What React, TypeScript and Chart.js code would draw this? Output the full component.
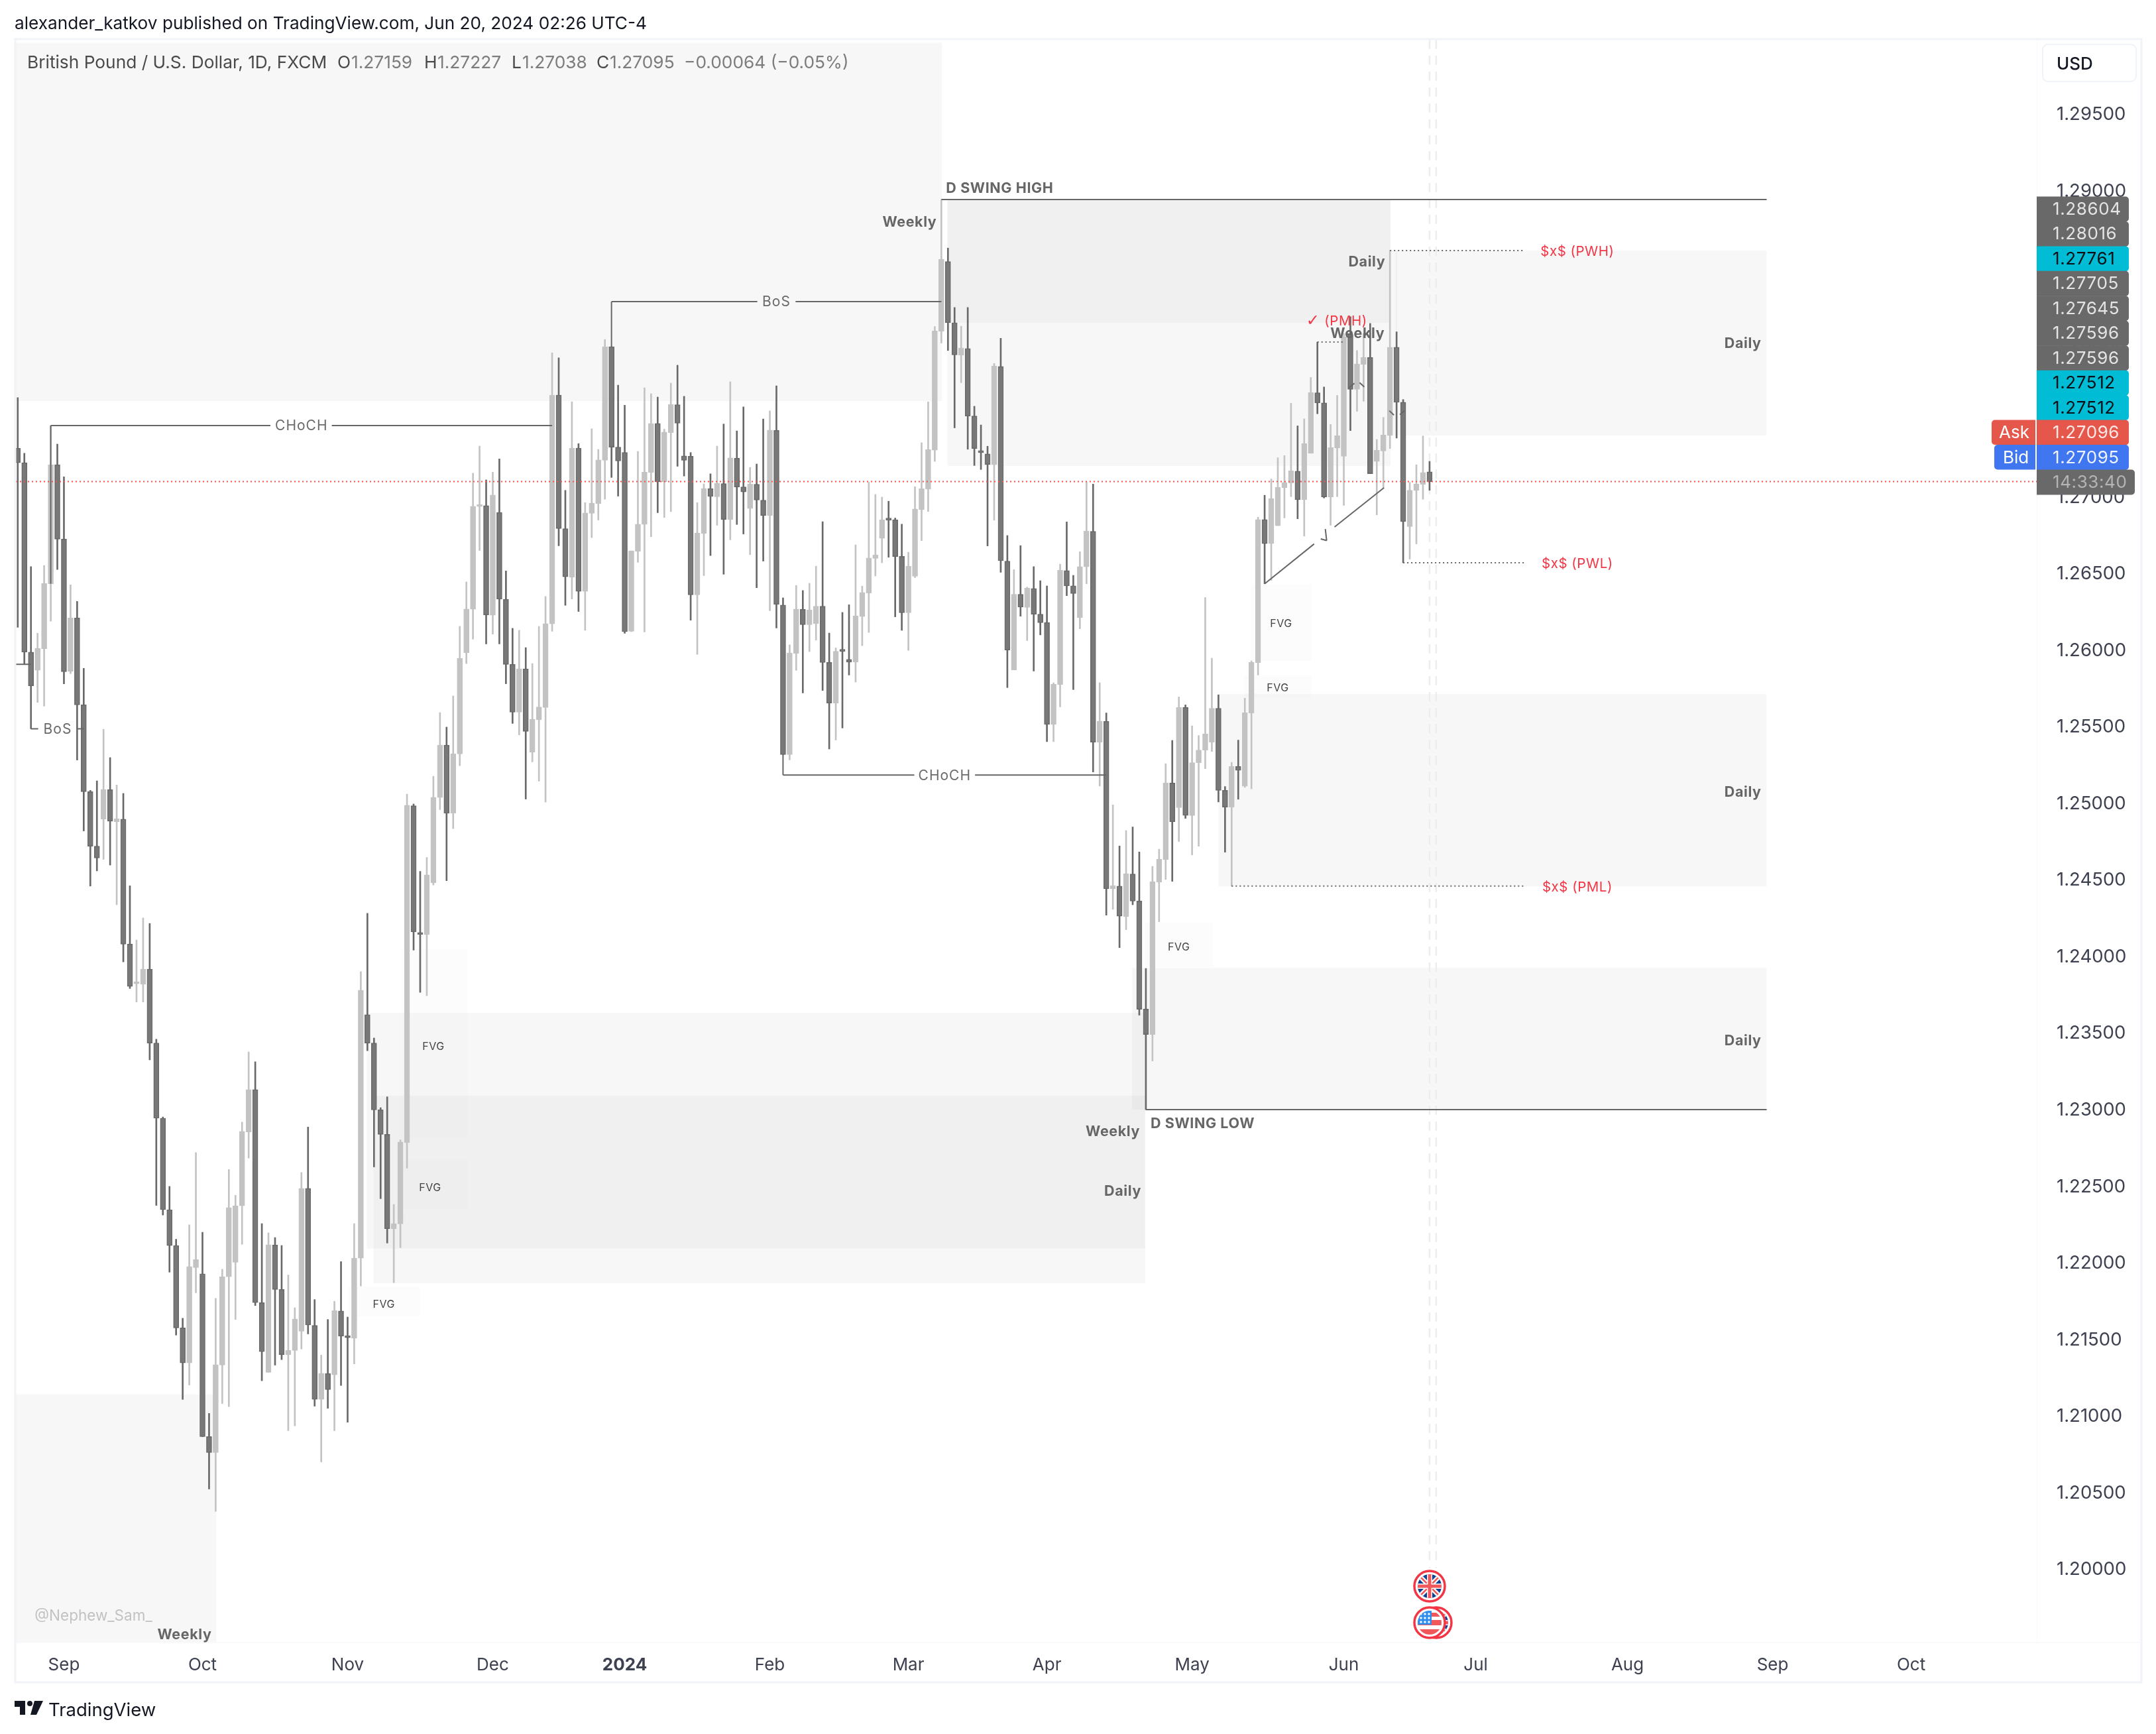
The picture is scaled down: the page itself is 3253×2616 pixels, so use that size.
import { useEffect, useRef } from "react";
import { Chart, registerables } from "chart.js";

Chart.register(...registerables);

const opens = [
  1.27313,1.27218,1.25982,1.25863,1.26004,1.26428,1.27205,1.26719,1.25856,1.26205,
  1.25637,1.25070,1.24714,1.24891,1.25083,1.24873,1.24891,1.24075,1.23816,1.23813,
  1.23912,1.23429,1.22938,1.22341,1.22107,1.21569,1.21340,1.21963,1.21922,1.20859,
  1.20755,1.21326,1.21903,1.21997,1.22366,1.22849,1.23125,1.21734,1.21279,1.22110,
  1.21820,1.21395,1.21422,1.21547,1.22480,1.21585,1.21102,1.21271,1.21262,1.21679,
  1.21516,1.21502,1.22024,1.23614,1.23429,1.22993,1.22833,1.22217,1.22248,1.22780,
  1.24979,1.24149,1.24136,1.24475,1.25032,1.25375,1.24929,1.25317,1.25978,1.26261,
  1.26932,1.26938,1.26223,1.26894,1.26327,1.25901,1.25589,1.25872,1.25329,1.25541,
  1.25620,1.26166,1.27660,1.26788,1.26470,1.27314,1.26378,1.26888,1.26952,1.27234,
  1.27976,1.27320,1.27285,1.26117,1.26640,1.26815,1.27155,1.27475,1.27093,1.27415,
  1.27597,1.27263,1.27261,1.26356,1.26757,1.27049,1.26996,1.27082,1.26848,1.27248,
  1.27060,1.26919,1.27078,1.26974,1.26874,1.27429,1.26289,1.25313,1.25974,1.26261,
  1.26161,1.26168,1.26281,1.25914,1.25649,1.25991,1.25934,1.25916,1.26214,1.26367,
  1.26594,1.26724,1.26848,1.26846,1.26607,1.26239,1.26477,1.26912,1.27046,1.27300,
  1.28077,1.28532,1.28132,1.27920,1.27964,1.27523,1.27289,1.27276,1.27207,1.27847,
  1.26576,1.25865,1.26359,1.26273,1.26397,1.26229,1.26174,1.25509,1.25770,1.26514,
  1.26414,1.26207,1.26538,1.26770,1.25394,1.25529,1.24436,1.24454,1.24255,1.24533,
  1.24356,1.23651,1.23485,1.24479,1.24626,1.25127,1.24966,1.25620,1.24914,1.25260,
  1.25342,1.25394,1.25615,1.25079,1.24969,1.25235,1.25106,1.25583,1.25913,1.26847,
  1.26690,1.26807,1.27055,1.27086,1.27163,1.26977,1.27280,1.27675,1.27609,1.26995,
  1.27315,1.27260,1.28055,1.27697,1.27861,1.27905,1.27227,1.27295,1.27397,1.27973,
  1.27613,1.26801,1.27037,1.27077,1.27159,
];

const highs = [
  1.27644,1.27280,1.26540,1.26105,1.26547,1.27461,1.27340,1.27126,1.26421,1.26313,
  1.25876,1.25079,1.25141,1.25478,1.25293,1.25114,1.25059,1.24456,1.24102,1.24246,
  1.24210,1.23454,1.22946,1.22493,1.22148,1.21632,1.22242,1.22714,1.22193,1.21011,
  1.21762,1.21952,1.22604,1.22435,1.22913,1.23371,1.23307,1.22250,1.22190,1.22159,
  1.22107,1.21914,1.21701,1.22584,1.22880,1.21754,1.21392,1.21624,1.21743,1.22002,
  1.21640,1.22250,1.23895,1.24276,1.23462,1.23007,1.23078,1.22375,1.22797,1.25054,
  1.24990,1.24550,1.24641,1.25171,1.25587,1.25492,1.25695,1.26150,1.26440,1.27150,
  1.27327,1.27106,1.27157,1.27243,1.26512,1.26137,1.26124,1.26011,1.25907,1.26150,
  1.26345,1.27936,1.27903,1.27038,1.27616,1.27343,1.26958,1.27440,1.27305,1.28023,
  1.27976,1.27725,1.27594,1.26643,1.27292,1.27707,1.27669,1.27647,1.27437,1.27738,
  1.27855,1.27652,1.27285,1.26958,1.27080,1.27146,1.27327,1.27471,1.27747,1.27426,
  1.27583,1.27188,1.27210,1.27504,1.27557,1.27720,1.26336,1.26029,1.26417,1.26384,
  1.26431,1.26543,1.26833,1.26106,1.26009,1.26241,1.26291,1.26682,1.26413,1.27091,
  1.27011,1.26994,1.26967,1.26857,1.26817,1.26634,1.27062,1.27349,1.27616,1.28108,
  1.28937,1.28620,1.28232,1.28110,1.28232,1.27587,1.27465,1.27326,1.27867,1.28031,
  1.26743,1.26520,1.26677,1.26406,1.26540,1.26448,1.26414,1.25781,1.26556,1.26832,
  1.26483,1.26637,1.27092,1.27079,1.25782,1.25584,1.24984,1.24716,1.24817,1.24840,
  1.24677,1.23916,1.24582,1.24695,1.25253,1.25405,1.25689,1.25637,1.25500,1.25437,
  1.26339,1.25942,1.25703,1.25104,1.25262,1.25407,1.25681,1.25924,1.26863,1.27006,
  1.27112,1.27251,1.27265,1.27607,1.27459,1.27505,1.27775,1.28006,1.27713,1.27468,
  1.27658,1.28062,1.28172,1.27951,1.28062,1.28128,1.27370,1.27514,1.28604,1.28073,
  1.27631,1.27090,1.27205,1.27393,1.27227,
];

const lows = [
  1.26143,1.25902,1.25481,1.25653,1.25629,1.26183,1.26521,1.25774,1.25841,1.25277,
  1.24814,1.24454,1.24553,1.24628,1.24591,1.24332,1.23959,1.23785,1.23697,1.23697,
  1.23319,1.22369,1.22306,1.21933,1.21522,1.21102,1.21196,1.21798,1.20859,1.20517,
  1.20371,1.21075,1.21055,1.21624,1.22115,1.22678,1.21715,1.21224,1.21279,1.21326,
  1.21362,1.20898,1.20929,1.21431,1.21530,1.21058,1.20694,1.21044,1.20898,1.21193,
  1.20953,1.21334,1.21842,1.23379,1.22620,1.22413,1.22123,1.21864,1.22093,1.22612,
  1.24036,1.23760,1.23738,1.24461,1.24953,1.24489,1.24829,1.25240,1.25907,1.26066,
  1.26645,1.26035,1.26099,1.26035,1.25775,1.25516,1.25441,1.25022,1.25265,1.25139,
  1.25002,1.26117,1.26676,1.26287,1.26329,1.26247,1.26124,1.26729,1.26844,1.26980,
  1.27122,1.27000,1.26104,1.26115,1.26568,1.26113,1.26735,1.26892,1.26861,1.26899,
  1.27195,1.27131,1.26190,1.25967,1.26481,1.26612,1.26810,1.26490,1.26715,1.26815,
  1.26753,1.26618,1.26402,1.26576,1.26252,1.26139,1.25313,1.25278,1.25863,1.25715,
  1.25985,1.26060,1.25731,1.25349,1.25408,1.25486,1.25832,1.25786,1.26024,1.26110,
  1.26479,1.26565,1.26601,1.26212,1.26124,1.25993,1.26468,1.26709,1.26900,1.27227,
  1.28000,1.27951,1.27446,1.27741,1.27306,1.27200,1.27174,1.26675,1.26843,1.26503,
  1.25750,1.25865,1.26216,1.26057,1.25858,1.26094,1.25397,1.25397,1.25624,1.26350,
  1.25737,1.26134,1.26428,1.25199,1.25107,1.24264,1.24302,1.24052,1.24169,1.24332,
  1.23611,1.22994,1.23312,1.24221,1.24497,1.24485,1.24745,1.24896,1.24657,1.24714,
  1.25220,1.25333,1.25003,1.24675,1.24454,1.25021,1.25098,1.25089,1.25832,1.26428,
  1.26450,1.26807,1.26858,1.26997,1.26852,1.26739,1.27280,1.27538,1.26988,1.26810,
  1.26997,1.26940,1.27428,1.27554,1.27620,1.27147,1.26878,1.27057,1.27311,1.27379,
  1.26565,1.26589,1.26688,1.26980,1.27038,
];

const closes = [
  1.27218,1.25982,1.25761,1.26006,1.26430,1.27205,1.26719,1.25854,1.26205,1.25637,
  1.25070,1.24714,1.24637,1.25085,1.24878,1.24893,1.24075,1.23799,1.23820,1.23912,
  1.23429,1.22938,1.22341,1.22107,1.21569,1.21340,1.21969,1.22016,1.20859,1.20755,
  1.21329,1.21903,1.22355,1.22366,1.22852,1.23125,1.21734,1.21414,1.22112,1.21820,
  1.21395,1.21422,1.21627,1.22480,1.21588,1.21102,1.21273,1.21166,1.21682,1.21516,
  1.21505,1.22024,1.23774,1.23429,1.22993,1.22833,1.22217,1.22250,1.22783,1.24982,
  1.24155,1.24138,1.24527,1.25034,1.25375,1.24929,1.25317,1.25942,1.26263,1.26934,
  1.26938,1.26225,1.27007,1.26327,1.25901,1.25589,1.25872,1.25464,1.25543,1.25623,
  1.26168,1.27660,1.26788,1.26473,1.27314,1.26378,1.26890,1.26954,1.27237,1.27976,
  1.27320,1.27230,1.26115,1.26643,1.26817,1.27157,1.27475,1.27093,1.27418,1.27599,
  1.27477,1.27234,1.26356,1.26760,1.27049,1.26998,1.27084,1.26848,1.27250,1.27060,
  1.27027,1.27080,1.26974,1.26874,1.27431,1.26294,1.25313,1.25976,1.26263,1.26161,
  1.26258,1.26281,1.25914,1.25649,1.25987,1.25987,1.25916,1.26219,1.26371,1.26596,
  1.26616,1.26846,1.26844,1.26605,1.26239,1.26543,1.26916,1.27049,1.27304,1.28079,
  1.28547,1.28132,1.27922,1.27967,1.27523,1.27311,1.27284,1.27207,1.27850,1.26578,
  1.25995,1.26359,1.26275,1.26399,1.26229,1.26174,1.25509,1.25772,1.26516,1.26414,
  1.26364,1.26540,1.26772,1.25394,1.25531,1.24436,1.24456,1.24257,1.24535,1.24356,
  1.23649,1.23485,1.24483,1.24630,1.25127,1.24874,1.25620,1.24915,1.25260,1.25342,
  1.25448,1.25615,1.25079,1.24969,1.25235,1.25210,1.25586,1.25915,1.26847,1.26690,
  1.26984,1.27057,1.27088,1.27165,1.26977,1.27344,1.27677,1.27609,1.26995,1.27317,
  1.27395,1.28040,1.27697,1.27863,1.27907,1.27147,1.27300,1.27399,1.27973,1.27613,
  1.26834,1.27039,1.27079,1.27154,1.27095,
];

// month labels sit on these bar numbers, the axis runs on past the last candle
const timeTickBars = [7, 28, 50, 72, 92, 114, 135, 156, 178, 201, 221, 244, 266, 287];
const timeTickLabels = ["Sep", "Oct", "Nov", "Dec", "2024", "Feb", "Mar", "Apr", "May", "Jun", "Jul", "Aug", "Sep", "Oct"];

const lastPrice = 1.27095;
const swingHigh = 1.28937;
const swingLow = 1.22994;
const pwh = 1.28604;
const pwl = 1.26565;
const pml = 1.24454;
const pmh = 1.28006;

// [from bar, to bar, top price, bottom price, shade]
const zones = [
  [-0.28, 140.1, 1.29961, 1.27621, "rgba(0,0,0,0.031)"],
  [140.9, 208.1, 1.28937, 1.27197, "rgba(0,0,0,0.031)"],
  [140.9, 208.1, 1.28937, 1.28131, "rgba(0,0,0,0.031)"],
  [208.1, 265.1, 1.28603, 1.27396, "rgba(0,0,0,0.031)"],
  [182.0, 265.1, 1.25708, 1.24451, "rgba(0,0,0,0.031)"],
  [168.9, 265.1, 1.2392, 1.22994, "rgba(0,0,0,0.031)"],
  [52.9, 170.9, 1.23626, 1.22087, "rgba(0,0,0,0.031)"],
  [53.9, 170.9, 1.23085, 1.2186, "rgba(0,0,0,0.031)"],
  [-0.28, 30.1, 1.21135, 1.19519, "rgba(0,0,0,0.031)"],
  [58, 68.2, 1.24042, 1.22808, "rgba(0,0,0,0.012)"],
  [58, 68.2, 1.22665, 1.22341, "rgba(0,0,0,0.012)"],
  [50, 61, 1.21839, 1.21644, "rgba(0,0,0,0.012)"],
  [186.9, 196.1, 1.26426, 1.25924, "rgba(0,0,0,0.012)"],
  [185.9, 196.1, 1.25829, 1.25682, "rgba(0,0,0,0.012)"],
  [170.9, 181.2, 1.24215, 1.23925, "rgba(0,0,0,0.012)"],
] as const;

// [x1, price1, x2, price2]
const solidLines = [
  [5, 1.26428, 5, 1.27461],
  [5, 1.27461, 38.3, 1.27461],
  [47.6, 1.27461, 81, 1.27461],
  [-0.28, 1.25902, 2, 1.25902],
  [2, 1.25481, 3.1, 1.25481],
  [9, 1.25481, 10, 1.25481],
  [90, 1.27976, 90, 1.2827],
  [90, 1.2827, 112.1, 1.2827],
  [117.9, 1.2827, 140, 1.2827],
  [140, swingHigh, 265.1, swingHigh],
  [171, swingLow, 265.1, swingLow],
  [116, 1.25313, 116, 1.25179],
  [116, 1.25179, 135.9, 1.25179],
  [145.1, 1.25179, 165, 1.25179],
  [189, 1.26428, 196.5, 1.26688],
  [199.6, 1.26799, 207.1, 1.27055],
  [197.5, 1.26721, 198.4, 1.2671],
  [198.4, 1.2671, 198.2, 1.26785],
  [201.8, 1.27708, 202.6, 1.27737],
  [203.4, 1.27741, 204.1, 1.27713],
  [207.9, 1.27558, 208.6, 1.27529],
  [209.5, 1.27532, 210.2, 1.27558],
] as const;

const dottedLines = [
  [197, pmh, 201, pmh],
  [208, pwh, 228.3, pwh],
  [210, pwl, 228.3, pwl],
  [184, pml, 228.3, pml],
] as const;

const boldNotes = [
  ["Weekly", 139.3, 1.28794, "right"],
  ["Weekly", 207.2, 1.28071, "right"],
  ["Daily", 207.3, 1.28538, "right"],
  ["Weekly", 170.1, 1.2286, "right"],
  ["Daily", 170.3, 1.2247, "right"],
  ["Weekly", 29.4, 1.19571, "right"],
  ["Daily", 264.3, 1.28002, "right"],
  ["Daily", 264.3, 1.25076, "right"],
  ["Daily", 264.3, 1.23453, "right"],
  ["D SWING HIGH", 140.7, 1.29019, "left"],
  ["D SWING LOW", 171.7, 1.22912, "left"],
] as const;

const structureNotes = [
  ["CHoCH", 43, 1.27461],
  ["BoS", 6.05, 1.25481],
  ["BoS", 115, 1.2827],
  ["CHoCH", 140.5, 1.25179],
] as const;

const fvgNotes = [
  [63, 1.23414],
  [62.5, 1.22492],
  [55.5, 1.2173],
  [191.5, 1.26175],
  [191, 1.25755],
  [176, 1.24063],
] as const;

const redNotes = [
  ["(PMH)", 201.3, 1.28149],
  ["$x$ (PWH)", 236.4, pwh],
  ["$x$ (PWL)", 236.4, pwl],
  ["$x$ (PML)", 236.4, pml],
] as const;

const badgeLabels = ["1.28604", "1.28016", "1.27761", "1.27705", "1.27645", "1.27596", "1.27596", "1.27512", "1.27512", "1.27096", "1.27095", "14:33:40"];
const badgeColors = ["#696969", "#696969", "#00bcd4", "#696969", "#696969", "#696969", "#696969", "#00bcd4", "#00bcd4", "#e5574b", "#4076f0", "#696969"];
const badgeInk = ["#e4e4e4", "#e4e4e4", "#0b0e14", "#e4e4e4", "#e4e4e4", "#e4e4e4", "#e4e4e4", "#0b0e14", "#0b0e14", "#ffe8e6", "#eef3ff", "#b4b4b4"];

const FONT = "Inter, 'Noto Sans', sans-serif";

function put(ctx: any, text: string, x: number, y: number, font: string, color: string, align = "left", spacing = "0px") {
  ctx.font = font;
  ctx.fillStyle = color;
  ctx.textAlign = align;
  ctx.textBaseline = "middle";
  ctx.letterSpacing = spacing;
  ctx.fillText(text, x, y);
  ctx.letterSpacing = "0px";
}

function roundBox(ctx: any, x: number, y: number, w: number, h: number, r: any, fill: string) {
  ctx.beginPath();
  ctx.roundRect(x, y, w, h, r);
  ctx.fillStyle = fill;
  ctx.fill();
}

function drawUk(ctx: any, cx: number, cy: number) {
  ctx.save();
  ctx.beginPath();
  ctx.arc(cx, cy, 18, 0, Math.PI * 2);
  ctx.clip();
  ctx.fillStyle = "#0d3f96";
  ctx.fillRect(cx - 18, cy - 18, 36, 36);
  ctx.strokeStyle = "#ffffff";
  ctx.lineWidth = 7;
  ctx.beginPath();
  ctx.moveTo(cx - 18, cy - 18);
  ctx.lineTo(cx + 18, cy + 18);
  ctx.moveTo(cx + 18, cy - 18);
  ctx.lineTo(cx - 18, cy + 18);
  ctx.stroke();
  ctx.strokeStyle = "#f0585c";
  ctx.lineWidth = 2.5;
  ctx.stroke();
  ctx.fillStyle = "#ffffff";
  ctx.fillRect(cx - 4, cy - 18, 8, 36);
  ctx.fillRect(cx - 18, cy - 4, 36, 8);
  ctx.fillStyle = "#f0585c";
  ctx.fillRect(cx - 2.5, cy - 18, 5, 36);
  ctx.fillRect(cx - 18, cy - 2.5, 36, 5);
  ctx.restore();
}

function drawUs(ctx: any, cx: number, cy: number) {
  ctx.save();
  ctx.beginPath();
  ctx.arc(cx, cy, 18, 0, Math.PI * 2);
  ctx.clip();
  ctx.fillStyle = "#ffffff";
  ctx.fillRect(cx - 18, cy - 18, 36, 36);
  ctx.fillStyle = "#f0585c";
  ctx.fillRect(cx - 18, cy - 15, 36, 6);
  ctx.fillRect(cx - 18, cy - 4, 36, 8);
  ctx.fillRect(cx - 18, cy + 10, 36, 8);
  ctx.fillStyle = "#2f8ef0";
  ctx.fillRect(cx - 18, cy - 18, 21, 21);
  ctx.fillStyle = "#ffffff";
  for (let r = 0; r < 3; r++) {
    for (let c = 0; c < 3; c++) {
      ctx.beginPath();
      ctx.arc(cx - 13 + c * 6, cy - 13 + r * 6, 1.7, 0, Math.PI * 2);
      ctx.fill();
    }
  }
  ctx.restore();
}

function ring(ctx: any, cx: number, cy: number) {
  ctx.beginPath();
  ctx.arc(cx, cy, 23, 0, Math.PI * 2);
  ctx.fillStyle = "#ffffff";
  ctx.fill();
  ctx.strokeStyle = "#f23645";
  ctx.lineWidth = 3.5;
  ctx.stroke();
}

const zonesPlugin = {
  id: "zones",
  beforeDatasetsDraw(chart: any) {
    const { ctx, chartArea, scales } = chart;
    ctx.save();
    ctx.beginPath();
    ctx.rect(chartArea.left, chartArea.top, chartArea.width, chartArea.height);
    ctx.clip();
    for (const [a, b, top, bottom, shade] of zones) {
      const x1 = scales.x.getPixelForValue(a);
      const x2 = scales.x.getPixelForValue(b);
      const y1 = scales.y.getPixelForValue(top);
      const y2 = scales.y.getPixelForValue(bottom);
      ctx.fillStyle = shade;
      ctx.fillRect(x1, y1, x2 - x1, y2 - y1);
    }
    ctx.restore();
  },
};

const overlayPlugin = {
  id: "overlay",
  afterDraw(chart: any) {
    const { ctx, scales } = chart;
    const px = (v: number) => scales.x.getPixelForValue(v);
    const py = (v: number) => scales.y.getPixelForValue(v);
    ctx.save();

    // frame
    ctx.strokeStyle = "#f1f3f8";
    ctx.lineWidth = 3;
    ctx.strokeRect(23, 59, 3208, 2479);
    ctx.fillStyle = "#f8f9fb";
    ctx.fillRect(3073, 60, 1, 2417);
    ctx.fillRect(24, 2477, 3206, 2);

    for (const [text, x, price, align] of boldNotes) {
      put(ctx, text, px(x), py(price) + 2, `700 21.5px ${FONT}`, "#666666", align, "0.6px");
    }
    for (const [text, x, price] of structureNotes) {
      put(ctx, text, px(x), py(price) + 1, `400 21px ${FONT}`, "#6a6a6a", "center", "1px");
    }
    for (const [x, price] of fvgNotes) {
      put(ctx, "FVG", px(x), py(price) + 2, `400 16px ${FONT}`, "#444444", "center", "0.5px");
    }
    for (const [text, x, price] of redNotes) {
      put(ctx, text, px(x), py(price) + 2, `400 20.5px ${FONT}`, "#f23645", "center", "0.5px");
    }
    put(ctx, "✓", px(196.3), py(1.28149) + 2, "400 24px 'DejaVu Sans'", "#f23645", "center");
    put(ctx, "@Nephew_Sam_", 141, 2438, `400 22.5px ${FONT}`, "#c2c2c2", "center");

    // header
    put(ctx, "alexander_katkov published on TradingView.com, Jun 20, 2024 02:26 UTC-4", 22, 36, `400 26.2px ${FONT}`, "#131722");
    const legendFont = `400 26.3px ${FONT}`;
    put(ctx, "British Pound / U.S. Dollar, 1D, FXCM", 41, 95, legendFont, "#4a4a4a");
    put(ctx, "O", 509, 95, legendFont, "#4a4a4a");
    put(ctx, "1.27159", 530, 95, legendFont, "#7d7d7d");
    put(ctx, "H", 640, 95, legendFont, "#4a4a4a");
    put(ctx, "1.27227", 660, 95, legendFont, "#7d7d7d");
    put(ctx, "L", 772, 95, legendFont, "#4a4a4a");
    put(ctx, "1.27038", 788, 95, legendFont, "#7d7d7d");
    put(ctx, "C", 900, 95, legendFont, "#4a4a4a");
    put(ctx, "1.27095", 920, 95, legendFont, "#7d7d7d");
    put(ctx, "−0.00064 (−0.05%)", 1032, 95, legendFont, "#7d7d7d");

    // price badges on the axis
    ctx.fillStyle = "#ffffff";
    ctx.fillRect(3074, 62, 155, 62);
    ctx.beginPath();
    ctx.roundRect(3082, 67, 141, 56, 8);
    ctx.strokeStyle = "#f0f3fa";
    ctx.lineWidth = 2;
    ctx.stroke();
    put(ctx, "USD", 3103, 97, `500 26px ${FONT}`, "#131722");

    const stepY = 37.45;
    badgeLabels.forEach((label, i) => {
      const y = 296.5 + i * stepY;
      const w = i === 11 ? 148 : 139;
      roundBox(ctx, 3073, y, w, stepY + 0.5, [0, 5, 5, 0], badgeColors[i]);
      put(ctx, label, 3097, y + stepY / 2 + 1, `400 26px ${FONT}`, badgeInk[i], "left", "0.6px");
    });
    const askY = 296.5 + 9 * stepY;
    const bidY = 296.5 + 10 * stepY;
    roundBox(ctx, 3005, askY, 66, stepY, [5, 0, 0, 5], "#e5574b");
    put(ctx, "Ask", 3016, askY + stepY / 2 + 1, `400 26px ${FONT}`, "#ffffff");
    roundBox(ctx, 3009, bidY, 62, stepY, [5, 0, 0, 5], "#4076f0");
    put(ctx, "Bid", 3022, bidY + stepY / 2 + 1, `400 26px ${FONT}`, "#ffffff");

    // calendar flags under the last bars
    ring(ctx, 2157, 2393);
    drawUk(ctx, 2157, 2393);
    ring(ctx, 2167, 2448);
    drawUk(ctx, 2167, 2448);
    ring(ctx, 2157, 2448);
    drawUs(ctx, 2157, 2448);

    // footer logo
    ctx.fillStyle = "#131722";
    ctx.fillRect(22, 2566, 16, 9);
    ctx.fillRect(30, 2566, 8, 21);
    ctx.beginPath();
    ctx.arc(45, 2570, 4, 0, Math.PI * 2);
    ctx.fill();
    ctx.beginPath();
    ctx.moveTo(52, 2566);
    ctx.lineTo(65, 2566);
    ctx.lineTo(55, 2587);
    ctx.lineTo(46, 2587);
    ctx.closePath();
    ctx.fill();
    put(ctx, "TradingView", 73, 2581, `400 27.5px ${FONT}`, "#131722");

    ctx.restore();
  },
};

function makeLine(points: any[], color: string, width: number, dash: number[], order: number) {
  return {
    type: "line",
    data: points,
    borderColor: color,
    borderWidth: width,
    borderDash: dash,
    pointRadius: 0,
    tension: 0,
    order,
  };
}

export default function App() {
  const canvasRef = useRef<HTMLCanvasElement | null>(null);

  useEffect(() => {
    if (!canvasRef.current) return;

    const up = closes.map((c, i) => c >= opens[i]);
    const wicks = highs.map((h, i) => ({ x: i, y: [lows[i], h] }));
    const bodies = opens.map((o, i) => ({ x: i, y: [Math.min(o, closes[i]), Math.max(o, closes[i])] }));

    const chart = new Chart(canvasRef.current, {
      type: "bar",
      data: {
        datasets: [
          makeLine([{ x: 214, y: 1.2998 }, { x: 214, y: 1.2 }], "#ededed", 2.5, [14, 10], 6),
          makeLine([{ x: 215, y: 1.2998 }, { x: 215, y: 1.2 }], "#ededed", 2.5, [14, 10], 6),
          makeLine([{ x: 209, y: pwh }, { x: 209, y: 1.28073 }], "#efefef", 2, [], 6),
          {
            data: wicks,
            backgroundColor: up.map((u) => (u ? "#c3c3c3" : "#696969")),
            barThickness: 2,
            grouped: false,
            order: 5,
          },
          {
            data: bodies,
            backgroundColor: up.map((u) => (u ? "#c3c3c3" : "#787878")),
            borderColor: up.map((u) => (u ? "#c3c3c3" : "#696969")),
            borderWidth: 1.5,
            borderSkipped: false,
            barThickness: 8,
            minBarLength: 3,
            grouped: false,
            order: 4,
          },
          ...solidLines.map(([a, p, b, q]) => makeLine([{ x: a, y: p }, { x: b, y: q }], "#666666", 2, [], 2)),
          ...dottedLines.map(([a, p, b, q]) => makeLine([{ x: a, y: p }, { x: b, y: q }], "#666666", 2, [2, 4], 2)),
          makeLine([{ x: -0.28, y: lastPrice }, { x: 306.03, y: lastPrice }], "#ef5350", 2, [2, 4], 1),
        ] as any,
      },
      options: {
        responsive: false,
        animation: false,
        devicePixelRatio: 1,
        events: [],
        layout: { padding: { top: 60, left: 24, right: 0, bottom: 0 } },
        plugins: { legend: { display: false }, tooltip: { enabled: false }, title: { display: false } },
        scales: {
          x: {
            type: "linear",
            min: -0.28,
            max: 306.03,
            offset: false,
            grid: { display: false },
            border: { display: false },
            afterBuildTicks: (scale: any) => {
              scale.ticks = timeTickBars.map((value) => ({ value }));
            },
            afterFit: (scale: any) => {
              scale.height = 139;
            },
            ticks: {
              autoSkip: false,
              maxRotation: 0,
              padding: 12,
              color: "#3d4150",
              font: (c: any) => ({
                family: FONT,
                size: 26,
                weight: c.tick && c.tick.value === 92 ? "700" : "400",
              }),
              callback: (value: any) => timeTickLabels[timeTickBars.indexOf(value)] ?? "",
            },
          },
          y: {
            type: "linear",
            position: "right",
            min: 1.19519,
            max: 1.2998,
            grid: { display: false },
            border: { display: false },
            afterFit: (scale: any) => {
              scale.width = 180;
            },
            ticks: {
              stepSize: 0.005,
              includeBounds: false,
              padding: 22,
              labelOffset: 2,
              color: "#3d4150",
              font: { family: FONT, size: 27.5 },
              callback: (value: any) => Number(value).toFixed(5),
            },
          },
        },
      } as any,
      plugins: [zonesPlugin, overlayPlugin],
    });

    return () => chart.destroy();
  }, []);

  return (
    <div style={{ position: "absolute", left: 0, top: 0, width: 3253, height: 2616, background: "#ffffff" }}>
      <canvas ref={canvasRef} width={3253} height={2616} style={{ display: "block" }} />
    </div>
  );
}
